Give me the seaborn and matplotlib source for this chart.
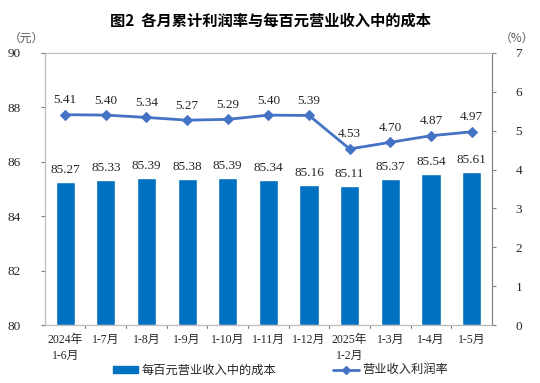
import numpy as np
import pandas as pd
import matplotlib
matplotlib.use("Agg")
import matplotlib.pyplot as plt
from matplotlib import font_manager as fm
import seaborn as sns
from matplotlib.lines import Line2D
from matplotlib.patches import Patch

categories = ["2024年\n1-6月", "1-7月", "1-8月", "1-9月", "1-10月", "1-11月", "1-12月",
              "2025年\n1-2月", "1-3月", "1-4月", "1-5月"]
cost = [85.27, 85.33, 85.39, 85.38, 85.39, 85.34, 85.16, 85.11, 85.37, 85.54, 85.61]
rate = [5.41, 5.40, 5.34, 5.27, 5.29, 5.40, 5.39, 4.53, 4.70, 4.87, 4.97]
left_ticks = [80, 82, 84, 86, 88, 90]
right_ticks = [0, 1, 2, 3, 4, 5, 6, 7]

sns.set_theme(style="white")
names = {f.name for f in fm.fontManager.ttflist}
serif = "Liberation Serif" if "Liberation Serif" in names else "DejaVu Serif"
fams = [serif, "Noto Sans CJK SC", "DejaVu Sans"]
cjk = ["Noto Sans CJK SC", "DejaVu Sans"]
plt.rcParams["font.family"] = fams

bar_color = "#0070C0"
line_color = "#4472C4"
spine_color = "#BFBFBF"
text_color = "#262626"

df = pd.DataFrame({"cat": categories, "cost": cost, "rate": rate})

fig = plt.figure(figsize=(5.4, 3.83), dpi=100)
ax = fig.add_axes([0.083, 0.151, 0.828, 0.711])
sns.barplot(data=df, x="cat", y="cost", ax=ax, color=bar_color, width=0.47,
            saturation=1)
ax.set_ylim(80, 90)
for p, v in zip(ax.patches, cost):
    p.set_y(80)
    p.set_height(v - 80)
ax.set_yticks(left_ticks)
ax.set_yticklabels([str(t) for t in left_ticks], fontsize=9.5, color=text_color,
                   family=fams)
ax.set_xlim(-0.5, len(categories) - 0.5)
ax.set_xticks(range(len(categories)))
ax.set_xticklabels(categories, fontsize=8.5, color=text_color, linespacing=1.5,
                   family=fams)
ax.tick_params(axis="x", length=0, pad=6)
ax.tick_params(axis="y", length=3, width=0.8, color="#808080", direction="out", pad=14)
for x in np.arange(0.5, len(categories) - 1, 1):
    ax.plot([x, x], [79.88, 80], color="#808080", lw=0.8, clip_on=False)
ax.set_xlabel("")
ax.set_ylabel("")
for p, v in zip(ax.patches, cost):
    ax.text(p.get_x() + p.get_width() / 2, v + 0.22, f"{v:.2f}", ha="center",
            va="bottom", fontsize=9.5, color=text_color, family=fams)

ax2 = ax.twinx()
sns.lineplot(x=np.arange(len(rate)), y=rate, ax=ax2, color=line_color, lw=2,
             marker="D", markersize=5, markeredgecolor=line_color)
ax2.set_ylim(0, 7)
ax2.set_yticks(right_ticks)
ax2.set_yticklabels([str(t) for t in right_ticks], fontsize=9.5, color=text_color,
                    family=fams)
ax2.tick_params(axis="y", length=3, width=0.8, color="#808080", direction="out", pad=14)
for i, v in enumerate(rate):
    ax2.text(i, v + 0.22, f"{v:.2f}", ha="center", va="bottom", fontsize=9.5,
             color=text_color, family=fams)

for a in (ax, ax2):
    for s in a.spines.values():
        s.set_color(spine_color)
        s.set_linewidth(0.8)
ax.spines["left"].set_color("#808080")
ax2.spines["right"].set_color("#808080")
ax.spines["bottom"].set_color("#808080")

fig.text(0.5, 0.945, "图2  各月累计利润率与每百元营业收入中的成本", ha="center",
         va="center", fontsize=11, family=cjk, color="#000000", weight="bold")
fig.text(0.048, 0.9, "（元）", ha="center", va="center", fontsize=8.5,
         family=cjk, color="#595959")
fig.text(0.958, 0.9, "（%）", ha="center", va="center", fontsize=8.5,
         family=cjk, color="#595959")

handles = [Patch(facecolor=bar_color, edgecolor=bar_color),
           Line2D([0], [0], color=line_color, lw=2, marker="D", markersize=4)]
fig.legend(handles, ["每百元营业收入中的成本", "营业收入利润率"], loc="center",
           bbox_to_anchor=(0.519, 0.034), ncol=2, frameon=False,
           prop={"family": cjk, "size": 8.8}, handlelength=2.05, handleheight=0.5,
           columnspacing=4.7, handletextpad=0.3)

fig.savefig("out.png", dpi=100)
